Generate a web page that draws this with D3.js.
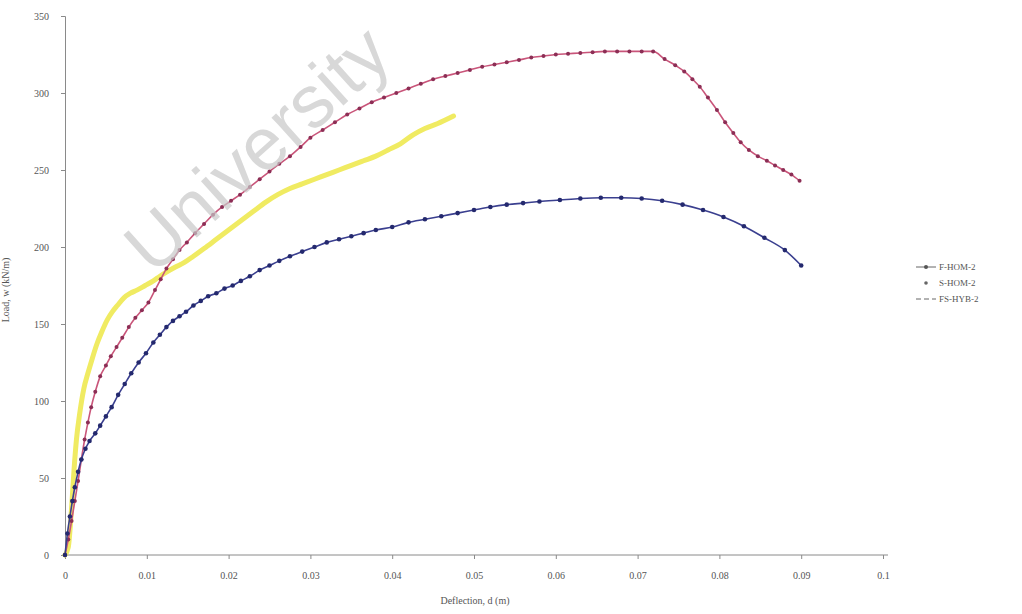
<!DOCTYPE html>
<html>
<head>
<meta charset="utf-8">
<script src="https://cdn.jsdelivr.net/npm/d3@7"></script>
<style>
  body { margin: 0; background: #fff; }
  text { font-family: "Liberation Serif", serif; fill: #555; }
</style>
</head>
<body>
<div id="chart"></div>
<script>
// chart size
var svgWidth = 1022;
var svgHeight = 614;

var margin = { top: 16, right: 139, bottom: 59, left: 65 };
var width = svgWidth - margin.left - margin.right;
var height = svgHeight - margin.top - margin.bottom;

// series names and tick labels
var seriesNames = ["F-HOM-2", "S-HOM-2", "FS-HYB-2"];
var xTicks = [0, 0.01, 0.02, 0.03, 0.04, 0.05, 0.06, 0.07, 0.08, 0.09, 0.1];
var xTickLabels = ["0", "0.01", "0.02", "0.03", "0.04", "0.05", "0.06", "0.07", "0.08", "0.09", "0.1"];
var yTicks = [0, 50, 100, 150, 200, 250, 300, 350];

// F-HOM-2 (blue, line + markers)
var fhomX = [0, 0.0003, 0.0006, 0.0009, 0.0012, 0.0016, 0.002, 0.0025, 0.003, 0.0037, 0.0043, 0.005, 0.0057, 0.0065, 0.0073, 0.0081, 0.009, 0.0099, 0.0108, 0.0116, 0.0124, 0.0132, 0.014, 0.0148, 0.0157, 0.0166, 0.0175, 0.0185, 0.0195, 0.0205, 0.0215, 0.0226, 0.0238, 0.025, 0.0262, 0.0275, 0.029, 0.0305, 0.032, 0.0335, 0.035, 0.0365, 0.038, 0.04, 0.042, 0.044, 0.046, 0.048, 0.05, 0.052, 0.054, 0.056, 0.058, 0.0605, 0.063, 0.0655, 0.068, 0.0705, 0.073, 0.0755, 0.078, 0.0805, 0.083, 0.0855, 0.088, 0.09];
var fhomY = [0, 14, 25, 35, 44, 54, 62, 69, 74, 79, 84, 90, 96, 104, 111, 118, 125, 131, 138, 143, 148, 152, 155, 158, 162, 165, 168, 170, 173, 175, 178, 181, 185, 188, 191, 194, 197, 200, 203, 205, 207, 209, 211, 213, 216, 218, 220, 222, 224, 226, 227.5, 228.5, 229.5, 230.5, 231.5, 232, 232, 231.5, 230, 227.5, 224, 219.5, 213.5, 206, 198, 188];

// S-HOM-2 (red, markers)
var shomX = [0, 0.0004, 0.0008, 0.0012, 0.0016, 0.002, 0.0024, 0.0028, 0.0032, 0.0037, 0.0043, 0.005, 0.0056, 0.0063, 0.007, 0.0078, 0.0086, 0.0094, 0.0102, 0.011, 0.0117, 0.0124, 0.0132, 0.014, 0.0149, 0.0159, 0.017, 0.0181, 0.0192, 0.0203, 0.0214, 0.0226, 0.0238, 0.025, 0.0262, 0.0275, 0.0288, 0.03, 0.0315, 0.033, 0.0345, 0.036, 0.0375, 0.039, 0.0405, 0.042, 0.0435, 0.045, 0.0465, 0.048, 0.0495, 0.051, 0.0525, 0.054, 0.0555, 0.057, 0.0585, 0.06, 0.0615, 0.063, 0.0645, 0.066, 0.0675, 0.069, 0.0705, 0.0719, 0.0733, 0.0746, 0.0757, 0.0767, 0.0776, 0.0786, 0.0797, 0.0807, 0.0817, 0.0826, 0.0836, 0.0847, 0.0858, 0.0868, 0.0878, 0.0888, 0.0898];
var shomY = [0, 10, 22, 35, 48, 62, 75, 86, 96, 106, 116, 123, 129, 135, 141, 148, 154, 159, 164, 172, 179, 186, 192, 198, 203, 209, 215, 221, 226, 230, 234, 239, 244, 249, 254, 259, 265, 271, 276, 281, 286, 290, 294, 297, 300, 303, 306, 309, 311, 313, 315, 317, 318.5, 320, 321.5, 323, 324, 325, 325.5, 326, 326.5, 327, 327, 327, 327, 327, 322, 318, 314, 309, 304, 297, 289, 281, 274, 268, 263, 259, 256, 253, 250, 247, 243];

// FS-HYB-2 (yellow, thick line)
var hybX = [0, 0.0004, 0.0008, 0.0011, 0.0014, 0.0018, 0.0023, 0.0028, 0.0033, 0.0039, 0.0045, 0.0052, 0.0058, 0.0064, 0.0072, 0.008, 0.0088, 0.0098, 0.0108, 0.0116, 0.0125, 0.0135, 0.0146, 0.0157, 0.017, 0.0185, 0.02, 0.0215, 0.023, 0.0245, 0.026, 0.0275, 0.029, 0.0305, 0.032, 0.0335, 0.035, 0.0365, 0.038, 0.0395, 0.041, 0.0426, 0.044, 0.0455, 0.0475];
var hybY = [0, 5, 30, 55, 75, 92, 108, 118, 127, 137, 145, 153, 158, 162, 167, 170, 172, 175, 178, 181, 184, 187, 190, 194, 199, 205, 211, 217, 223, 229, 234, 238, 241, 244, 247, 250, 253, 256, 259, 263, 267, 273, 277, 280, 285];

function zip(xs, ys) {
    return xs.map(function (x, i) { return { x: x, y: ys[i] }; });
}
var fhom = zip(fhomX, fhomY);
var shom = zip(shomX, shomY);
var hyb = zip(hybX, hybY);

var svg = d3.select("#chart")
    .append("svg")
    .attr("width", svgWidth)
    .attr("height", svgHeight);

var chart = svg.append("g")
    .attr("transform", `translate(${margin.left}, ${margin.top})`);

var xscale = d3.scaleLinear().domain([0, 0.1]).range([0, 818]);
var yscale = d3.scaleLinear().domain([0, 350]).range([height, 0]);

// axes
var bottomAxis = d3.axisBottom(xscale)
    .tickValues(xTicks)
    .tickFormat(function (d, i) { return xTickLabels[i]; })
    .tickSize(4)
    .tickPadding(13);
var leftAxis = d3.axisLeft(yscale)
    .tickValues(yTicks)
    .tickSize(4)
    .tickPadding(12);

var xAxisG = chart.append("g")
    .attr("transform", `translate(0, ${height})`)
    .call(bottomAxis);
var yAxisG = chart.append("g")
    .call(leftAxis);

[xAxisG, yAxisG].forEach(function (g) {
    g.selectAll("path, line").attr("stroke", "#8a8a8a");
    g.selectAll("text").style("font-size", "10px").style("font-family", "Liberation Serif").attr("fill", "#666");
});
xAxisG.select("path").attr("d", "M0,0H823");

// axis titles
svg.append("text")
    .attr("x", 475)
    .attr("y", 604)
    .style("font-size", "10px")
    .style("text-anchor", "middle")
    .text("Deflection, d (m)");

svg.append("text")
    .attr("transform", "translate(9, 290) rotate(-90)")
    .style("font-size", "10px")
    .style("text-anchor", "middle")
    .text("Load, w (kN/m)");

var line = d3.line()
    .x(d => xscale(d.x))
    .y(d => yscale(d.y))
    .curve(d3.curveMonotoneX);

// yellow thick line
chart.append("path")
    .datum(hyb)
    .attr("d", line)
    .attr("fill", "none")
    .attr("stroke", "#f0eb62")
    .attr("stroke-width", 5)
    .attr("stroke-linecap", "round");

// red curve with dots
chart.append("path")
    .datum(shom)
    .attr("d", line)
    .attr("fill", "none")
    .attr("stroke", "#c9557a")
    .attr("stroke-width", 1.6);
chart.selectAll(".shom")
    .data(shom)
    .enter()
    .append("circle")
    .attr("class", "shom")
    .attr("cx", d => xscale(d.x))
    .attr("cy", d => yscale(d.y))
    .attr("r", 2)
    .attr("fill", "#8c2e55");

// blue curve with dots
chart.append("path")
    .datum(fhom)
    .attr("d", line)
    .attr("fill", "none")
    .attr("stroke", "#3a3f8f")
    .attr("stroke-width", 1.6);
chart.selectAll(".fhom")
    .data(fhom)
    .enter()
    .append("circle")
    .attr("class", "fhom")
    .attr("cx", d => xscale(d.x))
    .attr("cy", d => yscale(d.y))
    .attr("r", 2.3)
    .attr("fill", "#24296e");

// watermark
svg.append("text")
    .attr("transform", "translate(274, 168) rotate(-42)")
    .style("font-family", "Liberation Sans")
    .style("font-size", "74px")
    .style("text-anchor", "middle")
    .style("fill", "#c8c8c8")
    .style("opacity", 0.7)
    .text("University");

// legend
var legend = svg.append("g").attr("transform", "translate(916, 267)");
seriesNames.forEach(function (name, i) {
    var row = legend.append("g").attr("transform", `translate(0, ${i * 16})`);
    if (i === 0) {
        row.append("line").attr("x1", 0).attr("x2", 20).attr("y1", 0).attr("y2", 0)
            .attr("stroke", "#666").attr("stroke-width", 1);
        row.append("circle").attr("cx", 10).attr("cy", 0).attr("r", 2).attr("fill", "#555");
    } else if (i === 1) {
        row.append("circle").attr("cx", 10).attr("cy", 0).attr("r", 1.8).attr("fill", "#666");
    } else {
        row.append("line").attr("x1", 0).attr("x2", 20).attr("y1", 0).attr("y2", 0)
            .attr("stroke", "#666").attr("stroke-width", 1).attr("stroke-dasharray", "5,3");
    }
    row.append("text")
        .attr("x", 23)
        .attr("y", 3)
        .style("font-size", "9px")
        .text(name);
});
</script>
</body>
</html>
